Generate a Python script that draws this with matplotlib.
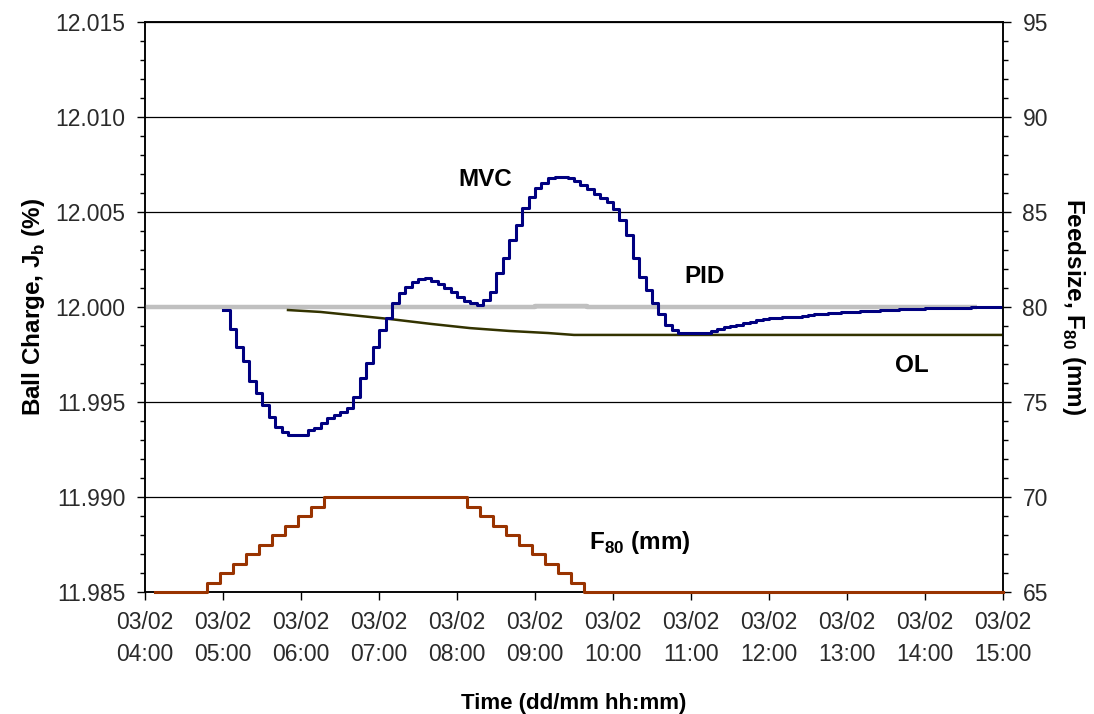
import numpy as np
import matplotlib
matplotlib.use("Agg")
import matplotlib.pyplot as plt
from matplotlib.ticker import MultipleLocator, FormatStrFormatter

plt.rcParams['font.family'] = ['Liberation Sans', 'DejaVu Sans']
plt.rcParams['mathtext.fontset'] = 'custom'
plt.rcParams['mathtext.rm'] = 'Liberation Sans'
plt.rcParams['mathtext.bf'] = 'Liberation Sans:bold'

# ---------------- data ----------------
tick_hours = ["04:00", "05:00", "06:00", "07:00", "08:00", "09:00", "10:00",
              "11:00", "12:00", "13:00", "14:00", "15:00"]
tick_date = "03/02"

# MVC ball charge (%), sampled every 5 min from 05:00 to 15:00
mvc_start = "05:00"
mvc_step_min = 5
mvc_vals = [
    11.99984, 11.99884, 11.99789, 11.99716, 11.99611, 11.99547, 11.99484, 11.99421,
    11.99368, 11.99342, 11.99326, 11.99326, 11.99326, 11.99353, 11.99363, 11.99389,
    11.99416, 11.99432, 11.99447, 11.99468, 11.99526, 11.99626, 11.99705, 11.99789,
    11.99879, 11.99942, 12.00021, 12.00074, 12.00105, 12.00132, 12.00147, 12.00153,
    12.00137, 12.00121, 12.00100, 12.00079, 12.00053, 12.00032, 12.00021, 12.00011,
    12.00037, 12.00079, 12.00179, 12.00258, 12.00353, 12.00432, 12.00521, 12.00579,
    12.00626, 12.00653, 12.00679, 12.00684, 12.00684, 12.00679, 12.00663, 12.00642,
    12.00621, 12.00595, 12.00574, 12.00553, 12.00516, 12.00458, 12.00379, 12.00258,
    12.00158, 12.00089, 12.00021, 11.99963, 11.99905, 11.99879, 11.99863, 11.99863,
    11.99863, 11.99863, 11.99863, 11.99874, 11.99884, 11.99895, 11.99900, 11.99905,
    11.99916, 11.99921, 11.99932, 11.99937, 11.99942, 11.99942, 11.99947, 11.99947,
    11.99947, 11.99953, 11.99958, 11.99963, 11.99963, 11.99968, 11.99968, 11.99974,
    11.99974, 11.99974, 11.99979, 11.99979, 11.99979, 11.99984, 11.99984, 11.99984,
    11.99989, 11.99989, 11.99989, 11.99989, 11.99995, 11.99995, 11.99995, 11.99995,
    11.99995, 11.99995, 11.99995, 12.00000, 12.00000, 12.00000, 12.00000, 12.00000,
    12.00000,
]

# PID ball charge (%)
pid_times = ["04:00", "09:00", "09:40", "14:40"]
pid_vals = [12.00000, 12.00004, 12.00000, 12.00000]

# Open loop ball charge (%)
ol_times = ["05:50", "06:15", "06:38", "07:08", "07:40", "08:10", "08:40",
            "09:10", "09:30", "15:00"]
ol_vals = [11.99984, 11.99974, 11.99958, 11.99937, 11.99911, 11.99889,
           11.99874, 11.99863, 11.99853, 11.99853]

# Feed size F80 (mm)
f80_times = ["04:08", "04:48", "04:58", "05:08", "05:18", "05:28", "05:38",
             "05:48", "05:58", "06:08", "06:18", "08:08", "08:18", "08:28",
             "08:38", "08:48", "08:58", "09:08", "09:18", "09:28", "09:38",
             "15:00"]
f80_vals = [65, 65.5, 66, 66.5, 67, 67.5, 68, 68.5, 69, 69.5, 70, 69.5, 69,
            68.5, 68, 67.5, 67, 66.5, 66, 65.5, 65, 65]


def hrs(s):
    h, m = s.split(":")
    return int(h) + int(m) / 60.0


mvc_t = hrs(mvc_start) + np.arange(len(mvc_vals)) * mvc_step_min / 60.0

# ---------------- figure ----------------
fig = plt.figure(figsize=(10.94, 7.14), dpi=100)
ax = fig.add_axes([145 / 1094, 1 - 592 / 714, (1003 - 145) / 1094, (592 - 22) / 714])

ax.plot([hrs(t) for t in pid_times], pid_vals, drawstyle='steps-post',
        color='#c0c0c0', lw=3.2, zorder=3, solid_capstyle='butt')
ax.plot([hrs(t) for t in ol_times], ol_vals, color='#333300', lw=1.8, zorder=4)
ax.plot(mvc_t, mvc_vals, drawstyle='steps-post', color='#000080', lw=2.2, zorder=5)

ax.set_xlim(4, 15)
ax.set_ylim(11.985, 12.015)
ax.yaxis.set_major_locator(MultipleLocator(0.005))
ax.yaxis.set_minor_locator(MultipleLocator(0.001))
ax.yaxis.set_major_formatter(FormatStrFormatter('%.3f'))
ax.grid(axis='y', which='major', color='black', lw=0.9)
ax.set_axisbelow(True)

xt = [hrs(t) for t in tick_hours]
ax.set_xticks(xt)
ax.set_xticklabels([f"{tick_date}\n{t}" for t in tick_hours], linespacing=1.45)

for sp in ax.spines.values():
    sp.set_color('black')
    sp.set_linewidth(1.1)

lab_col = '#2a2a2a'
ax.tick_params(axis='y', which='major', direction='out', length=6, width=1,
               pad=8, labelsize=16.5, labelcolor=lab_col)
ax.tick_params(axis='y', which='minor', direction='out', length=3.5, width=1)
ax.tick_params(axis='x', which='major', direction='out', length=6, width=1,
               pad=8, labelsize=16.5, labelcolor=lab_col)

ax.set_ylabel('Ball Charge, J$_\\mathbf{b}$ (%)', fontsize=17.5,
              fontweight='bold', labelpad=6)
ax.set_xlabel('Time (dd/mm hh:mm)', fontsize=16, fontweight='bold', labelpad=20)

ax2 = ax.twinx()
ax2.plot([hrs(t) for t in f80_times], f80_vals, drawstyle='steps-post',
         color='#993300', lw=2.2, zorder=5, clip_on=False)
ax2.set_ylim(65, 95)
ax2.yaxis.set_major_locator(MultipleLocator(5))
ax2.yaxis.set_minor_locator(MultipleLocator(1))
ax2.tick_params(axis='y', which='major', direction='out', length=6, width=1,
                pad=8, labelsize=16.5, labelcolor=lab_col)
ax2.tick_params(axis='y', which='minor', direction='out', length=3.5, width=1)
ax2.set_ylabel('Feedsize, F$_\\mathbf{80}$ (mm)', fontsize=17.5,
               fontweight='bold', rotation=270, labelpad=28)
ax2.set_xlim(4, 15)
for sp in ax2.spines.values():
    sp.set_color('black')
    sp.set_linewidth(1.1)
    sp.set_zorder(1)

# annotations
fs = 17.5
fig.text(485 / 1094, 1 - 180 / 714, 'MVC', fontsize=fs, fontweight='bold',
         ha='center', va='center')
fig.text(705 / 1094, 1 - 277 / 714, 'PID', fontsize=fs, fontweight='bold',
         ha='center', va='center')
fig.text(912 / 1094, 1 - 366 / 714, 'OL', fontsize=fs, fontweight='bold',
         ha='center', va='center')
fig.text(640 / 1094, 1 - 543 / 714, 'F$_\\mathbf{80}$ (mm)', fontsize=fs,
         fontweight='bold', ha='center', va='center')

fig.savefig('out.png', dpi=100)
